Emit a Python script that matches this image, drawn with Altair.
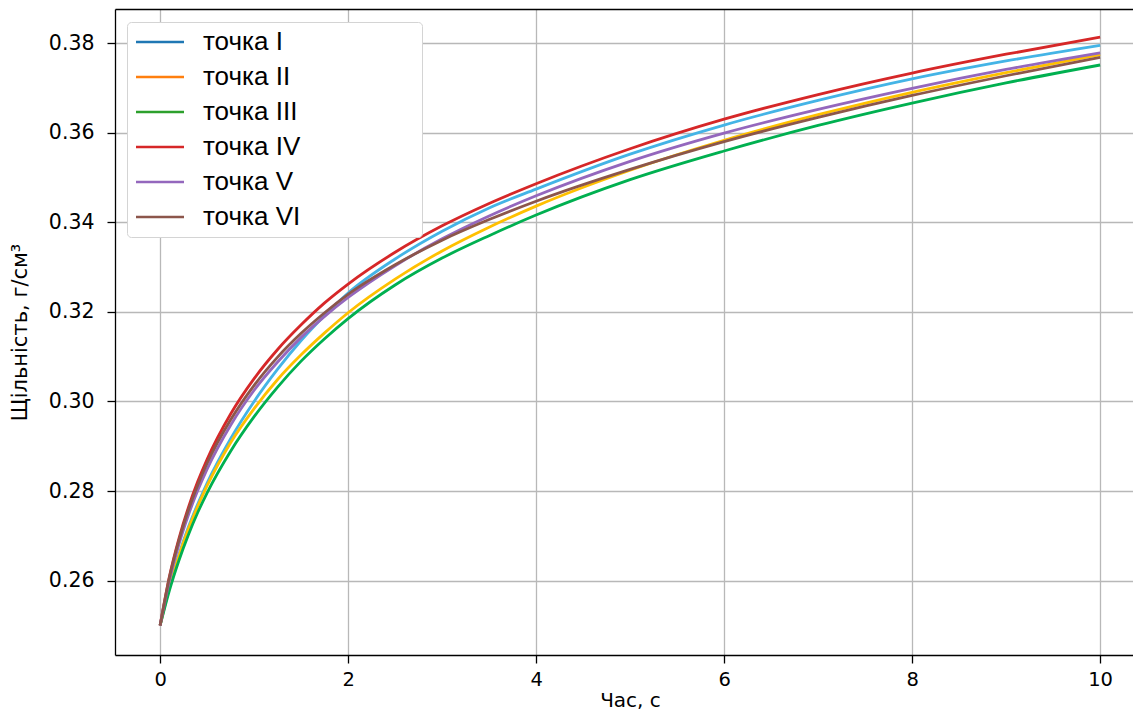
import altair as alt
import pandas as pd

# time grid (s)
t = [0, 0.1, 0.2, 0.3, 0.4, 0.5, 0.75, 1.0, 1.25, 1.5, 1.75, 2.0, 2.5, 3.0, 3.5, 4.0, 5.0, 6.0, 7.0, 8.0, 9.0, 10.0]

# density (g/cm3)
s_I   = [0.2500, 0.2587, 0.2658, 0.2719, 0.2771, 0.2818, 0.2917, 0.3000, 0.3072, 0.3136, 0.3192, 0.3242, 0.3318, 0.3380, 0.3432, 0.3474, 0.3552, 0.3617, 0.3672, 0.3720, 0.3760, 0.3795]
s_II  = [0.2500, 0.2585, 0.2655, 0.2715, 0.2766, 0.2812, 0.2908, 0.2984, 0.3049, 0.3104, 0.3153, 0.3198, 0.3273, 0.3336, 0.3389, 0.3436, 0.3516, 0.3583, 0.3640, 0.3690, 0.3734, 0.3774]
s_III = [0.2500, 0.2579, 0.2645, 0.2702, 0.2752, 0.2796, 0.2889, 0.2966, 0.3032, 0.3090, 0.3140, 0.3185, 0.3260, 0.3320, 0.3370, 0.3416, 0.3495, 0.3559, 0.3616, 0.3666, 0.3711, 0.3751]
s_IV  = [0.2500, 0.2610, 0.2694, 0.2763, 0.2821, 0.2871, 0.2972, 0.3051, 0.3116, 0.3171, 0.3220, 0.3262, 0.3333, 0.3392, 0.3442, 0.3486, 0.3564, 0.3630, 0.3685, 0.3733, 0.3775, 0.3813]
s_V   = [0.2500, 0.2601, 0.2681, 0.2746, 0.2801, 0.2849, 0.2947, 0.3025, 0.3088, 0.3143, 0.3190, 0.3232, 0.3303, 0.3363, 0.3414, 0.3459, 0.3536, 0.3599, 0.3652, 0.3699, 0.3741, 0.3778]
s_VI  = [0.2500, 0.2608, 0.2690, 0.2757, 0.2813, 0.2862, 0.2959, 0.3036, 0.3099, 0.3152, 0.3198, 0.3239, 0.3305, 0.3360, 0.3406, 0.3447, 0.3518, 0.3580, 0.3634, 0.3683, 0.3727, 0.3768]

labels = ["точка I", "точка II", "точка III", "точка IV", "точка V", "точка VI"]
series = [s_I, s_II, s_III, s_IV, s_V, s_VI]
legend_colors = ["#1f77b4", "#ff7f0e", "#2ca02c", "#d62728", "#9467bd", "#8c564b"]
line_colors = ["#44b4e6", "#ffc000", "#00b050", "#d62728", "#9467bd", "#8c564b"]

x_ticks = [0, 2, 4, 6, 8, 10]
y_ticks = [0.26, 0.28, 0.30, 0.32, 0.34, 0.36, 0.38]

rows = []
for k, (lab, ser) in enumerate(zip(labels, series)):
    for ti, v in zip(t, ser):
        rows.append({"t": ti, "rho": v, "series": lab, "k": k})
df = pd.DataFrame(rows)

xscale = alt.Scale(domain=[-0.48, 10.35], nice=False, zero=False)
yscale = alt.Scale(domain=[0.2434, 0.3876], nice=False, zero=False)

FONT = "DejaVu Sans"
PAD = "\u2800" * 6

lines = alt.Chart(df).mark_line(strokeWidth=2.8, interpolate="monotone").encode(
    x=alt.X("t:Q", scale=xscale, axis=alt.Axis(
        values=x_ticks, format="d", title="Час, с", grid=True,
        labelFontSize=19.5, labelPadding=7,
        titleX=515, titleY=51, titleBaseline="alphabetic")),
    y=alt.Y("rho:Q", scale=yscale, axis=alt.Axis(
        values=y_ticks, format=".2f", title="Щільність, г/см³", grid=True,
        labelFontSize=20.5, labelPadding=13, titleFontSize=21,
        titlePadding=18)),
    color=alt.Color("series:N", scale=alt.Scale(domain=labels, range=line_colors), legend=None),
    order=alt.Order("k:Q"),
)

legend_layer = alt.Chart(df).mark_line(opacity=0).encode(
    x=alt.X("t:Q", scale=xscale, axis=alt.Axis(
        orient="top", labels=False, ticks=False, grid=False, title=None,
        domain=True, domainColor="black", domainWidth=1.3)),
    y=alt.Y("rho:Q", scale=yscale, axis=None),
    color=alt.Color("series:N", scale=alt.Scale(domain=labels, range=legend_colors),
                    legend=alt.Legend(
                        orient="none", legendX=12, legendY=13, title=None,
                        symbolType="M-4,0H4", symbolSize=144, symbolStrokeWidth=2.5,
                        symbolOpacity=1, symbolOffset=13, symbolFillColor="transparent",
                        labelFont="Liberation Sans", labelFontSize=26, labelColor="black",
                        labelOffset=30, labelLimit=600, rowPadding=9, padding=7,
                        fillColor="white", strokeColor="#d4d4d4", cornerRadius=4,
                        labelExpr="datum.label + '" + PAD + "'",
                    )),
)

chart = alt.layer(lines, legend_layer).resolve_scale(
    color="independent"
).resolve_axis(
    x="independent", y="independent"
).properties(
    width=1018, height=646,
    padding={"left": 107, "top": 1, "right": 0, "bottom": 55},
    autosize=alt.AutoSizeParams(type="none"),
).configure_view(
    stroke=None
).configure_axis(
    labelFont=FONT, labelColor="black",
    titleFont=FONT, titleFontSize=20, titleColor="black", titleFontWeight="normal",
    domainColor="black", domainWidth=1.3,
    tickColor="black", tickSize=8, tickWidth=1.3,
    gridColor="#b8b8b8", gridWidth=1.3,
)

chart.save("out.html", embed_options={"renderer": "svg", "actions": False})
